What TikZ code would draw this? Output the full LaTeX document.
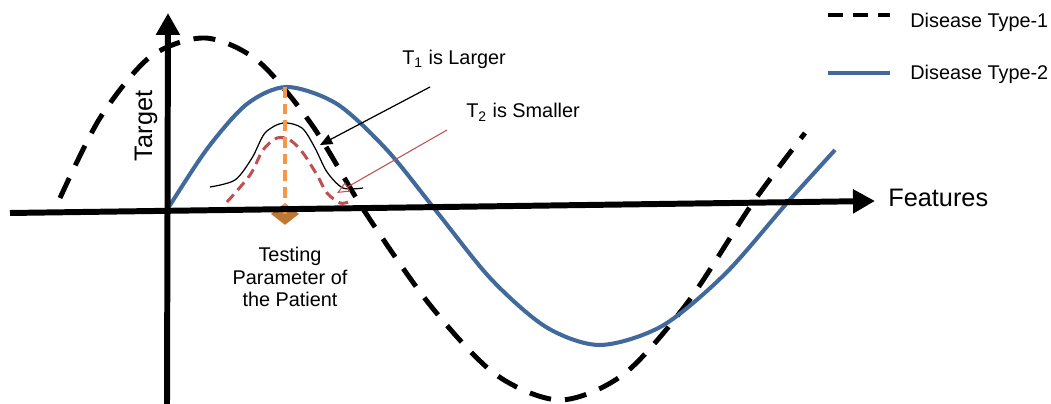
\documentclass[tikz,border=0pt]{standalone}
\usepackage{fontspec}
\setmainfont{Liberation Sans}
\usetikzlibrary{positioning, arrows.meta, shapes.geometric}
\definecolor{Curva}{HTML}{41699B}
\definecolor{Rosso}{HTML}{C0504D}
\definecolor{Arancio}{HTML}{F79646}
\definecolor{Marrone}{HTML}{BE7832}
\tikzset{
    axisline/.style={-{Triangle[length=12.5pt, width=13pt]}, line width=3.4pt, black},
    typeone/.style={line width=2.8pt, black, dash pattern=on 12.5pt off 8pt},
    typetwo/.style={line width=2.3pt, color=Curva},
    bellline/.style={line width=0.7pt, black},
    bellred/.style={line width=1.7pt, color=Rosso, dash pattern=on 5.7pt off 3.4pt},
    probeline/.style={line width=2pt, color=Arancio, dash pattern=on 6pt off 3.5pt},
    probemark/.style={diamond, fill=Marrone, inner sep=0pt, minimum width=16pt, minimum height=12.5pt},
    textsmall/.style={font=\fontsize{11.3}{12.8}\selectfont, inner sep=0pt},
    textbig/.style={font=\fontsize{14.4}{16}\selectfont, inner sep=0pt},
    callblack/.style={-{Triangle[length=7pt, width=6pt]}, line width=0.7pt, black},
    callred/.style={-{Triangle[open, length=7pt, width=6pt]}, line width=0.6pt, color=Rosso},
}
\begin{document}
\begin{tikzpicture}[x=0.02cm, y=-0.02cm]
    \useasboundingbox (0,0) rectangle (1051,404);

    % Curve delle due malattie
    \draw[typeone] plot[smooth] coordinates {(60,198) (100,118) (150,57) (205,38) (258,61) (312,125) (365,212) (430,305) (495,374) (560,400) (624,374) (688,302) (752,204) (805,133)};
    \draw[typetwo] plot[smooth] coordinates {(167,210) (207,149) (247,104) (287,87) (337,104) (387,150) (437,212) (491,279) (546,327) (600,345) (662,326) (725,274) (787,203) (835,150)};

    % Campane T1 e T2
    \draw[bellline] plot[smooth] coordinates {(210,187) (235,180) (252,158) (265,133) (283,123) (302,128) (315,148) (327,172) (343,188) (363,188)};
    \draw[bellred] plot[smooth] coordinates {(227,202) (250,175) (263,150) (277,138) (290,140) (303,153) (317,175) (327,193) (340,203) (348,202)};

    % Parametro del paziente
    \node[probemark] (probe) at (285,214) {};
    \coordinate (peak) at (285,87);
    \draw[probeline] (peak) -- (probe.center);

    % Assi
    \coordinate (xstart) at (10,213);
    \coordinate (xend) at (875,201);
    \coordinate (ystart) at (167,404);
    \coordinate (yend) at (168,13);
    \draw[axisline] (xstart) -- (xend);
    \draw[axisline] (ystart) -- (yend);
    \node[textbig, anchor=base west] (features) at (888,207) {Features};
    \node[textbig, rotate=90, anchor=base] (target) at (152,126) {Target};
    \node[textsmall, align=center, anchor=north] (probetext) at (290,247) {Testing\\Parameter of\\the Patient};

    % Etichette T1 / T2
    \node[textsmall, anchor=base west] (tone) at (402,65) {T\textsubscript{1} is Larger};
    \node[textsmall, anchor=base west] (ttwo) at (466,118) {T\textsubscript{2} is Smaller};
    \coordinate (tonefrom) at (430,87);
    \coordinate (toneto) at (320,145);
    \coordinate (ttwofrom) at (447,130);
    \coordinate (ttwoto) at (337,193);
    \draw[callblack] (tonefrom) -- (toneto);
    \draw[callred] (ttwofrom) -- (ttwoto);

    % Legenda
    \coordinate (legonea) at (828,15);
    \coordinate (legoneb) at (890,15);
    \coordinate (legtwoa) at (828,73);
    \coordinate (legtwob) at (890,73);
    \draw[typeone, line width=2.3pt, dash pattern=on 8.5pt off 5.7pt] (legonea) -- (legoneb);
    \draw[typetwo, line width=2.6pt] (legtwoa) -- (legtwob);
    \node[textsmall, anchor=base west] (legone) at (910,28) {Disease Type-1};
    \node[textsmall, anchor=base west] (legtwo) at (910,80) {Disease Type-2};
\end{tikzpicture}
\end{document}
